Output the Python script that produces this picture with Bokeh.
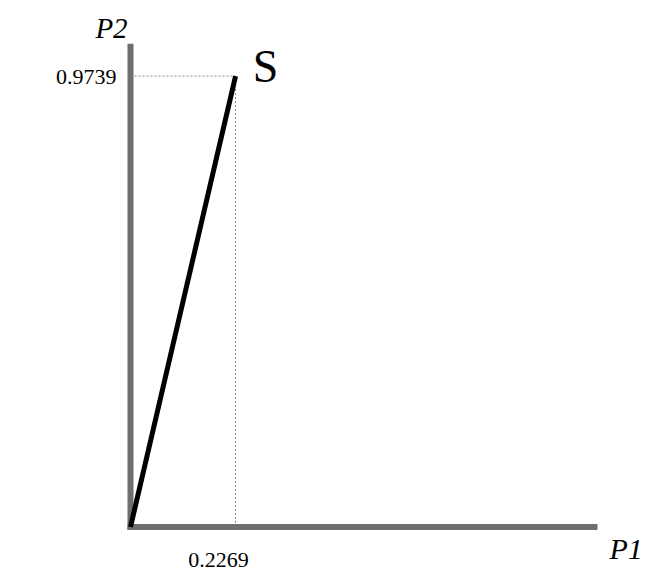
from bokeh.plotting import figure
from bokeh.models import Range1d
from bokeh.core.properties import value
from bokeh.embed import file_html
from bokeh.resources import INLINE

# Data
p1_value = 0.2269
p2_value = 0.9739
point_label = "S"
x_axis_label = "P1"
y_axis_label = "P2"
x_axis_length = 1.0086
y_axis_length = 1.044
axis_overhang = 0.0065

W, H = 642, 576
scale = 463.0
ox, oy = 130.0, 526.5

p = figure(width=W, height=H, output_backend="svg", toolbar_location=None,
           x_range=Range1d(-ox / scale, (W - ox) / scale),
           y_range=Range1d((oy - H) / scale, oy / scale),
           min_border=0, min_border_left=0, min_border_right=0,
           min_border_top=0, min_border_bottom=0)
p.xaxis.visible = False
p.yaxis.visible = False
p.grid.visible = False
p.outline_line_color = None
p.background_fill_color = "white"
p.border_fill_color = "white"

axis_color = "#6e6e6e"
serif = value("Liberation Serif")

# guide (dotted) lines
p.segment(x0=[0, p1_value], y0=[p2_value, 0], x1=[p1_value, p1_value], y1=[p2_value, p2_value],
          line_color="#8a8a8a", line_width=1, line_dash="2 2")

# axes
p.segment(x0=[0, -axis_overhang], y0=[-axis_overhang, 0], x1=[0, x_axis_length], y1=[y_axis_length, 0],
          line_color=axis_color, line_width=6, line_cap="butt")

# vector
p.line(x=[0, p1_value], y=[0, p2_value], line_color="black", line_width=5)

# labels
p.text(x=[0], y=[y_axis_length], text=[y_axis_label], text_font=serif, text_font_style="italic",
       text_font_size="29px", text_align="center", text_baseline="alphabetic",
       x_offset=-19, y_offset=-16, text_color="black")
p.text(x=[x_axis_length], y=[0], text=[x_axis_label], text_font=serif, text_font_style="italic",
       text_font_size="30px", text_align="left", text_baseline="alphabetic",
       x_offset=12, y_offset=21, text_color="black")
p.text(x=[p1_value], y=[p2_value], text=[point_label], text_font=serif,
       text_font_size="46px", text_align="center", text_baseline="middle",
       x_offset=30, y_offset=-10, text_color="black")
p.text(x=[0], y=[p2_value], text=[f"{p2_value:.4f}"], text_font=serif,
       text_font_size="22px", text_align="right", text_baseline="middle",
       x_offset=-14, y_offset=1, text_color="black")
p.text(x=[p1_value], y=[0], text=[f"{p1_value:.4f}"], text_font=serif,
       text_font_size="22px", text_align="center", text_baseline="alphabetic",
       x_offset=-17, y_offset=33, text_color="black")

open("out.html", "w").write(file_html(p, INLINE))
